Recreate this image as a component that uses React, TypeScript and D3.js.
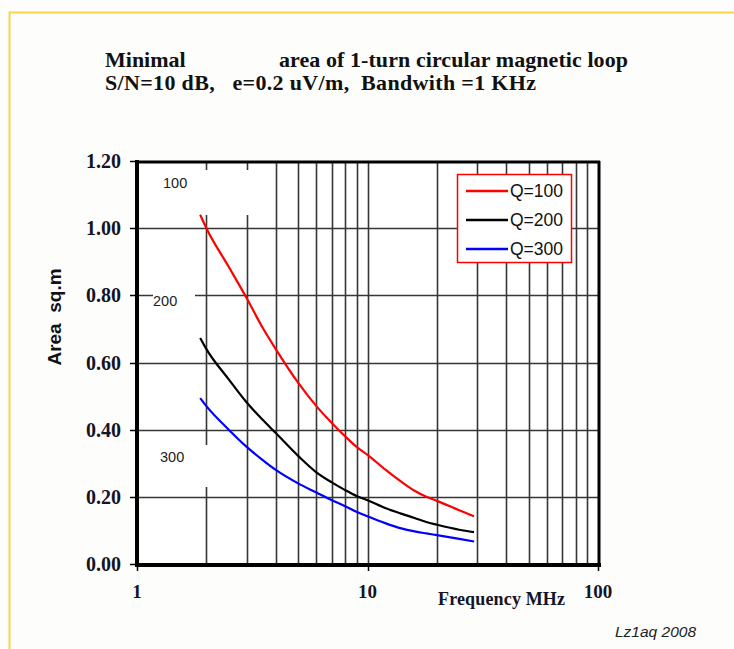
import React from "react";
import * as d3 from "d3";

const FREQ = [1.88, 2, 2.5, 3, 3.5, 4, 5, 6, 7, 8, 9, 10, 12, 14, 16, 18, 20, 25, 29];
const Q100 = [1.04, 1.0, 0.885, 0.79, 0.705, 0.64, 0.54, 0.47, 0.42, 0.38, 0.348, 0.325, 0.28, 0.245, 0.218, 0.2, 0.188, 0.16, 0.142];
const Q200 = [0.673, 0.64, 0.55, 0.48, 0.43, 0.39, 0.322, 0.273, 0.243, 0.22, 0.202, 0.19, 0.166, 0.15, 0.137, 0.125, 0.117, 0.102, 0.095];
const Q300 = [0.494, 0.47, 0.4, 0.348, 0.31, 0.28, 0.24, 0.213, 0.19, 0.172, 0.155, 0.142, 0.121, 0.106, 0.097, 0.091, 0.086, 0.075, 0.067];
const SERIES_NAMES = ["Q=100", "Q=200", "Q=300"];
const SERIES_COLORS = ["#ff0000", "#000000", "#0000ff"];
const Y_TICKS = [0, 0.2, 0.4, 0.6, 0.8, 1.0, 1.2];
const X_LABELS = [1, 10, 100];
const X_GRID = [2, 3, 4, 5, 6, 7, 8, 9, 10, 20, 30, 40, 50, 60, 70, 80, 90];

export default function App() {
  const x = d3.scaleLog().domain([1, 100]).range([137, 598]);
  const y = d3.scaleLinear().domain([0, 1.2]).range([564, 161]);
  const series = [Q100, Q200, Q300];
  const line = d3
    .line<number>()
    .x((_, i) => x(FREQ[i]))
    .y((d) => y(d))
    .curve(d3.curveMonotoneX);

  const serif = "'Liberation Serif', 'Times New Roman', serif";
  const sans = "'Liberation Sans', Arial, sans-serif";
  const gridColor = "#363636";
  const labelColor = "#141428";

  return (
    <svg
      width={734}
      height={649}
      style={{ position: "absolute", left: 0, top: 0, background: "#fdfefc" }}
    >
      <rect x={0} y={0} width={734} height={649} fill="#fdfefc" />
      {/* yellow frame */}
      <path d="M9.5,649 L9.5,12.5 L734,12.5" fill="none" stroke="#f7d448" strokeWidth={2} />

      {/* title */}
      <g fontFamily={serif} fontWeight="bold" fontSize={22} fill="#111">
        <text x={105} y={67}>Minimal</text>
        <text x={279} y={67} textLength={349} lengthAdjust="spacing">area of 1-turn circular magnetic loop</text>
        <text x={105} y={90} style={{ whiteSpace: "pre" }} textLength={431} lengthAdjust="spacing">
          {"S/N=10 dB,   e=0.2 uV/m,  Bandwith =1 KHz"}
        </text>
      </g>

      {/* plot background */}
      <rect x={137} y={161} width={461} height={403} fill="#ffffff" />

      {/* horizontal grid */}
      {Y_TICKS.filter((t) => t > 0 && t < 1.2).map((t) => (
        <line key={"h" + t} x1={137} x2={598} y1={Math.round(y(t)) + 0.5} y2={Math.round(y(t)) + 0.5} stroke={gridColor} strokeWidth={1.6} />
      ))}
      {/* vertical grid */}
      {X_GRID.map((f) => (
        <line key={"v" + f} x1={Math.round(x(f)) + 0.5} x2={Math.round(x(f)) + 0.5} y1={161} y2={564} stroke={gridColor} strokeWidth={1.6} />
      ))}

      {/* label boxes hiding grid */}
      <rect x={139} y={170} width={126} height={45} fill="#ffffff" />
      <rect x={153} y={286} width={42} height={22} fill="#ffffff" />
      <rect x={139} y={445} width={90} height={42} fill="#ffffff" />
      <g fontFamily={sans} fontSize={14.5} fill="#222">
        <text x={163} y={188}>100</text>
        <text x={153} y={306}>200</text>
        <text x={160} y={462}>300</text>
      </g>

      {/* curves */}
      {series.map((s, i) => (
        <path key={SERIES_NAMES[i]} d={line(s) || ""} fill="none" stroke={SERIES_COLORS[i]} strokeWidth={2.2} />
      ))}

      {/* frame */}
      <line x1={137} x2={600} y1={162} y2={162} stroke="#000" strokeWidth={3} />
      <line x1={599} x2={599} y1={161} y2={566} stroke="#000" strokeWidth={3} />
      <line x1={137} x2={137} y1={160} y2={567} stroke="#000" strokeWidth={4} />
      <line x1={135} x2={601} y1={565} y2={565} stroke="#000" strokeWidth={4} />

      {/* y ticks */}
      {Y_TICKS.map((t) => (
        <g key={"yt" + t}>
          <line x1={130} x2={137} y1={Math.round(y(t)) + 0.5} y2={Math.round(y(t)) + 0.5} stroke="#000" strokeWidth={1.5} />
          <text x={121} y={y(t) + 7} textAnchor="end" fontFamily={serif} fontWeight="bold" fontSize={20} fill={labelColor}>
            {t.toFixed(2)}
          </text>
        </g>
      ))}

      {/* x ticks */}
      {X_LABELS.map((f) => (
        <g key={"xt" + f}>
          <line x1={Math.round(x(f)) + 0.5} x2={Math.round(x(f)) + 0.5} y1={565} y2={571} stroke="#000" strokeWidth={1.5} />
          <text x={x(f)} y={598} textAnchor="middle" fontFamily={serif} fontWeight="bold" fontSize={19} fill={labelColor}>
            {f}
          </text>
        </g>
      ))}

      {/* axis titles */}
      <text x={438} y={605} fontFamily={serif} fontWeight="bold" fontSize={18} fill={labelColor} textLength={127} lengthAdjust="spacing">
        Frequency MHz
      </text>
      <text
        transform="translate(61,317) rotate(-90)"
        textAnchor="middle"
        fontFamily={sans}
        fontWeight="bold"
        fontSize={19}
        fill="#111"
        style={{ whiteSpace: "pre" }}
      >
        {"Area  sq.m"}
      </text>

      {/* legend */}
      <rect x={457.5} y={174.5} width={114} height={88} fill="#ffffff" stroke="#ff0000" strokeWidth={1.5} />
      {SERIES_NAMES.map((n, i) => (
        <g key={"lg" + n}>
          <line x1={466} x2={508} y1={191 + i * 29} y2={191 + i * 29} stroke={SERIES_COLORS[i]} strokeWidth={2.5} />
          <text x={510} y={197 + i * 29} fontFamily={sans} fontSize={17.5} fill="#111">
            {n}
          </text>
        </g>
      ))}

      {/* credit */}
      <text x={615} y={637} fontFamily={sans} fontStyle="italic" fontSize={15.5} fill="#222">
        Lz1aq 2008
      </text>
    </svg>
  );
}
